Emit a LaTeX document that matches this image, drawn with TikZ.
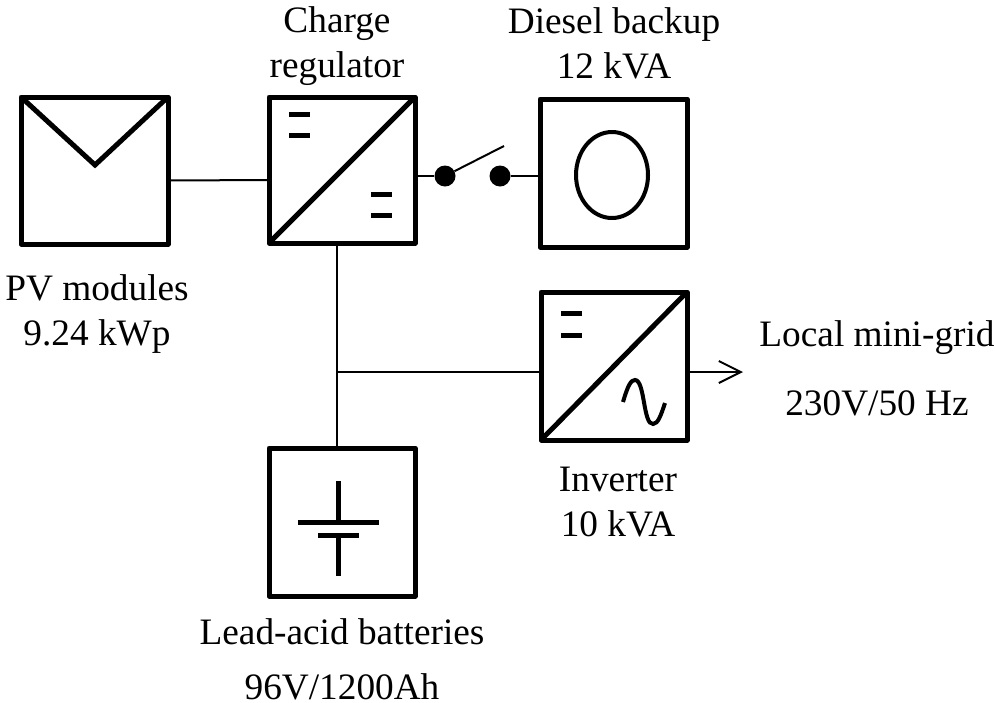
\documentclass[tikz,border=0pt]{standalone}
\usepackage{fontspec}
\setmainfont{Liberation Serif}
\usetikzlibrary{arrows.meta}
\tikzset{
  unit/.style={draw, line width=5pt, minimum width=147pt, minimum height=147pt, inner sep=0pt, outer sep=0pt, line join=round},
  wire/.style={line width=2pt},
  sym/.style={line width=5pt},
  dot/.style={circle, fill=black, minimum size=21pt, inner sep=0pt},
  lbl/.style={align=center, font=\fontsize{37.3}{45}\selectfont, inner sep=0pt}
}
\begin{document}
\begin{tikzpicture}[x=1pt, y=-1pt]
    \useasboundingbox (0,0) rectangle (995,702);
    \node[unit] (pv) at (94.5, 170.5) {};
    \node[unit, minimum width=146pt, minimum height=146pt] (charge) at (342, 170) {};
    \node[unit, minimum height=148pt] (diesel) at (613.5, 173) {};
    \node[unit, minimum width=146pt, minimum height=148pt] (inverter) at (614, 366) {};
    \node[unit, minimum width=146pt, minimum height=148pt] (batt) at (342, 522) {};
    \node[dot] (swa) at (445, 176) {};
    \node[dot] (swb) at (500, 176) {};
    \coordinate (junction) at (337, 372);
    \coordinate (swtip) at (504, 146);
    \coordinate (gridout) at (743, 372);

    % connections
    \draw[wire] ([yshift=-10pt]pv.east) -- ([yshift=-10pt]charge.west);
    \draw[wire] (swa -| charge.east) -- (swa);
    \draw[wire] (swa) -- (swtip);
    \draw[wire] (swb) -- (swb -| diesel.west);
    \draw[wire] (junction |- charge.south) -- (junction |- batt.north);
    \draw[wire] (junction) -- (junction -| inverter.west);
    \draw[wire, -{Straight Barb[length=22pt, width=22pt]}] (gridout -| inverter.east) -- (gridout);

    % pv module
    \draw[sym, line join=miter] (pv.north west) -- (95, 165) -- (pv.north east);
    % converters
    \draw[sym] (charge.south west) -- (charge.north east);
    \draw[sym] (inverter.south west) -- (inverter.north east);
    \foreach \x/\y in {289/114, 289/135, 371/194, 371/215, 561/313, 561/335}
        \draw[sym] (\x, \y) -- +(21, 0);
    \draw[line width=4pt, line cap=butt] (623, 402) .. controls (628, 385) and (631, 380) .. (635, 380)
        .. controls (645, 380) and (643, 425) .. (653, 424) .. controls (658, 424) and (661, 415) .. (665, 403);
    % generator
    \draw[line width=4pt] (612, 175) ellipse (36 and 43);
    % battery cell
    \draw[sym] (338, 481) -- (338, 522);
    \draw[sym] (298, 522) -- (379, 522);
    \draw[sym] (318, 535) -- (359, 535);
    \draw[sym] (338, 535) -- (338, 576);

    % labels
    \node[lbl] (chargelbl) at (337, 46) {Charge\\regulator};
    \node[lbl] (diesellbl) at (614, 43) {Diesel backup\\12 kVA};
    \node[lbl] (pvlbl) at (97, 314) {PV modules\\9.24 kWp};
    \node[lbl] (invlbl) at (618, 502) {Inverter\\10 kVA};
    \node[lbl] (gridlbl) at (877, 338) {Local mini-grid};
    \node[lbl] (gridvolt) at (877, 403) {230V/50 Hz};
    \node[lbl] (battlbl) at (342, 632) {Lead-acid batteries};
    \node[lbl] (battvolt) at (342, 687) {96V/1200Ah};
\end{tikzpicture}
\end{document}
